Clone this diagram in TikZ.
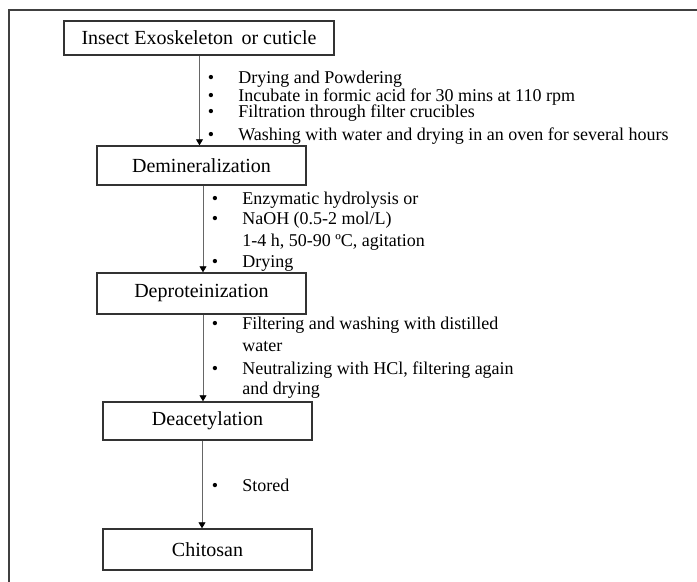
\documentclass[tikz,border=0pt]{standalone}
\usepackage{fontspec}
\setmainfont{Liberation Serif}
\usetikzlibrary{arrows.meta,calc}
\begin{document}
\begin{tikzpicture}[x=0.75pt,y=-0.75pt,
  stage/.style={draw=black!80, line width=1.1pt, inner sep=0pt,
    minimum width=156.75pt, font=\fontsize{15}{18}\selectfont},
  flow/.style={draw=black!60, line width=0.7pt,
    -{Triangle[length=4.5pt,width=5.25pt,color=black]}},
  item/.style={anchor=west, inner sep=0pt, font=\fontsize{13.5}{16}\selectfont,
    text height=9.5pt, text depth=2.5pt},
  dot/.style={item, anchor=center},
  frame/.style={fill=black!75}]
\useasboundingbox (0,0) rectangle (697,582);

% outer frame: top and left edges as thin bars
\coordinate (fl) at (8.3,582);
\coordinate (fc) at (9.7,9.3);
\coordinate (ft) at (8.3,9.3);
\coordinate (fr) at (697,10.7);
\fill[frame] (fl) rectangle (fc);
\fill[frame] (ft) rectangle (fr);

% process stages
\node[stage, minimum width=202.5pt, minimum height=25.5pt] (b1) at (199,38) {Insect Exoskeleton \,or cuticle};
\node[stage, minimum height=29.25pt] (b2) at (201.5,165.5) {Demineralization};
\node[stage, minimum height=30.75pt] (b3) at (201.5,293.5) {Deproteinization};
\node[stage, minimum height=28.5pt] (b4) at (207.5,421) {Deacetylation};
\node[stage, minimum height=30.75pt] (b5) at (207.5,549.5) {Chitosan};

% connectors
\draw[flow] ($(b1.south)+(0.5,0)$) -- ($(b1.south |- b2.north)+(0.5,0)$);
\draw[flow] ($(b2.south)+(1.5,0)$) -- ($(b2.south |- b3.north)+(1.5,0)$);
\draw[flow] ($(b3.south)+(1.5,0)$) -- ($(b3.south |- b4.north)+(1.5,0)$);
\draw[flow] ($(b4.south)+(-5.5,0)$) -- ($(b4.south |- b5.north)+(-5.5,0)$);

% step notes: stage 1
\node[dot] (d1a) at (211,79) {•};
\node[item] (t1a) at (238,79) {Drying and Powdering};
\node[dot] (d1b) at (211,97) {•};
\node[item] (t1b) at (238,97) {Incubate in formic acid for 30 mins at 110 rpm};
\node[dot] (d1c) at (211,113) {•};
\node[item] (t1c) at (238,113) {Filtration through filter crucibles};
\node[dot] (d1d) at (211,136) {•};
\node[item] (t1d) at (238,136) {Washing with water and drying in an oven for several hours};

% step notes: stage 2
\node[dot] (d2a) at (215,200) {•};
\node[item] (t2a) at (242,200) {Enzymatic hydrolysis or};
\node[dot] (d2b) at (215,220) {•};
\node[item] (t2b) at (242,220) {NaOH (0.5-2 mol/L)};
\node[item] (t2c) at (242,242) {1-4 h, 50-90 ºC, agitation};
\node[dot] (d2d) at (215,263) {•};
\node[item] (t2d) at (242,263) {Drying};

% step notes: stage 3
\node[dot] (d3a) at (215,325) {•};
\node[item] (t3a) at (242,325) {\makebox[192pt][s]{Filtering and washing with distilled}};
\node[item] (t3b) at (242,347) {water};
\node[dot] (d3c) at (215,370) {•};
\node[item] (t3c) at (242,370) {Neutralizing with HCl, filtering again};
\node[item] (t3d) at (242,390) {and drying};

% step notes: stage 4
\node[dot] (d4a) at (215,487) {•};
\node[item] (t4a) at (242,487) {Stored};
\end{tikzpicture}
\end{document}
